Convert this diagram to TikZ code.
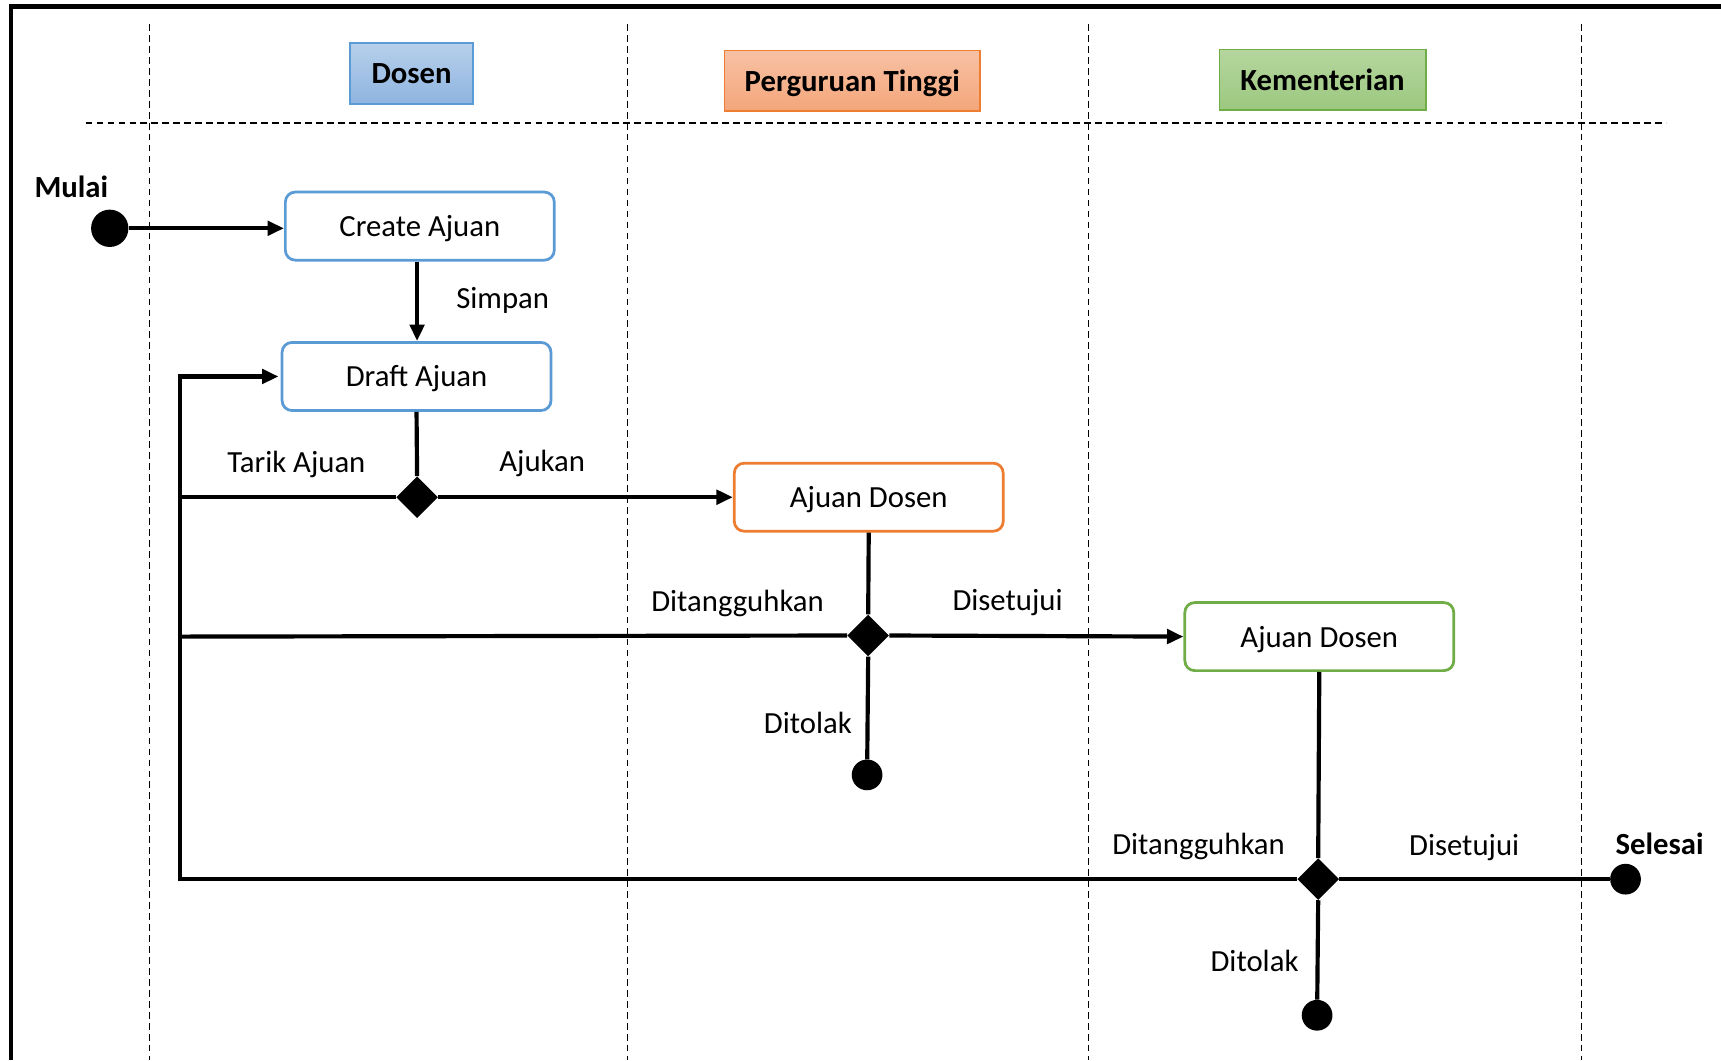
\documentclass[tikz,border=0pt]{standalone}
\usepackage{fontspec}
\setmainfont{Carlito}
\usetikzlibrary{arrows.meta,shapes.geometric}
\definecolor{bluebd}{HTML}{5B9BD5}
\definecolor{orangebd}{HTML}{ED7D31}
\definecolor{greenbd}{HTML}{70AD47}
\definecolor{bluetop}{HTML}{B7D0EB}
\definecolor{bluebot}{HTML}{8EB4E0}
\definecolor{orangetop}{HTML}{F7C1A4}
\definecolor{orangebot}{HTML}{F4A67A}
\definecolor{greentop}{HTML}{B5D69F}
\definecolor{greenbot}{HTML}{9CC87F}
\tikzset{
  txt/.style={font=\fontsize{28}{34}\selectfont,text height=21pt,text depth=2pt},
  lbl/.style={txt,inner sep=0pt},
  blbl/.style={txt,inner sep=0pt,font=\fontsize{28}{34}\selectfont\bfseries},
  state/.style={txt,draw,rounded corners=9pt,line width=2.5pt,minimum width=245pt,minimum height=62pt,inner sep=0pt,fill=white},
  dec/.style={diamond,fill=black,minimum size=38pt,inner sep=0pt},
  startc/.style={circle,fill=black,minimum size=34pt,inner sep=0pt},
  endc/.style={circle,fill=black,minimum size=28pt,inner sep=0pt},
  conn/.style={line width=3.8pt},
  arr/.style={line width=3.8pt,-{Triangle[length=15pt,width=13pt]}},
  lane/.style={line width=1.2pt,dash pattern=on 6pt off 4pt},
  hdr/.style={txt,draw,line width=1.5pt,inner sep=0pt,font=\fontsize{28}{34}\selectfont\bfseries}
}
\begin{document}
\begin{tikzpicture}[x=1pt,y=-1pt]
\useasboundingbox (0,0) rectangle (1568,966);
\fill[white] (0,0) rectangle (1568,966);
% frame
\draw[line width=4pt] (10,966) -- (10,6) -- (1568,6);
% lanes
\draw[lane] (78,112) -- (1518,112);
\foreach \xx in {136,572,992,1441} \draw[lane] (\xx,22) -- (\xx,966);
% headers
\node[hdr,draw=bluebd,top color=bluetop,bottom color=bluebot,minimum width=112pt,minimum height=56pt] (hdosen) at (375,67) {Dosen};
\node[hdr,draw=orangebd,top color=orangetop,bottom color=orangebot,minimum width=233pt,minimum height=55pt] (hpt) at (776.5,73.5) {Perguruan Tinggi};
\node[hdr,draw=greenbd,top color=greentop,bottom color=greenbot,minimum width=188pt,minimum height=55pt] (hkem) at (1205,72.5) {Kementerian};
% nodes
\node[startc] (start) at (100,208) {};
\node[blbl] (lmulai) at (65,170) {Mulai};
\node[state,draw=bluebd] (create) at (382.5,206) {Create Ajuan};
\node[state,draw=bluebd] (draft) at (379.5,343) {Draft Ajuan};
\node[dec] (d1) at (380,453) {};
\node[state,draw=orangebd] (ajpt) at (791.5,453) {Ajuan Dosen};
\node[dec] (d2) at (791,579) {};
\node[state,draw=greenbd] (ajkem) at (1202,580) {Ajuan Dosen};
\node[endc] (end1) at (790,706) {};
\node[dec] (d3) at (1201,801) {};
\node[endc] (end2) at (1481,801) {};
\node[endc] (end3) at (1200,925) {};
\coordinate (l1) at (164,453);
\coordinate (l2) at (164,580);
\coordinate (l3) at (164,801);
\coordinate (ltop) at (164,343);
% connectors
\draw[arr] (start.east) -- (create.west |- start.east);
\draw[arr] (create.south -| 380,0) -- (draft.north -| 380,0);
\draw[conn] (draft.south) -- (d1.north);
\draw[arr] (d1.east) -- (ajpt.west);
\draw[conn] (d1.west) -- (l1);
\draw[arr,line join=miter] (d3.west) -- (l3) -- (ltop) -- ([xshift=-2pt]draft.west);
\draw[conn] (d2.west) -- (l2);
\draw[conn] (ajpt.south) -- (d2.north);
\draw[arr] (d2.east) -- (ajkem.west);
\draw[conn] (d2.south) -- (end1);
\draw[conn] (ajkem.south) -- (d3.north);
\draw[conn] (d3.east) -- (end2);
\draw[conn] (d3.south) -- (end3);
% labels
\node[lbl] (lsimpan) at (458,272) {Simpan};
\node[lbl] (ltarik) at (270,421) {Tarik Ajuan};
\node[lbl] (lajukan) at (494,420) {Ajukan};
\node[lbl] (ltang1) at (672,548) {Ditangguhkan};
\node[lbl] (lset1) at (918,547) {Disetujui};
\node[lbl] (ltolak1) at (736,659) {Ditolak};
\node[lbl] (ltang2) at (1092,769) {Ditangguhkan};
\node[lbl] (lset2) at (1334,770) {Disetujui};
\node[blbl] (lselesai) at (1512,769) {Selesai};
\node[lbl] (ltolak2) at (1143,876) {Ditolak};
\end{tikzpicture}
\end{document}
